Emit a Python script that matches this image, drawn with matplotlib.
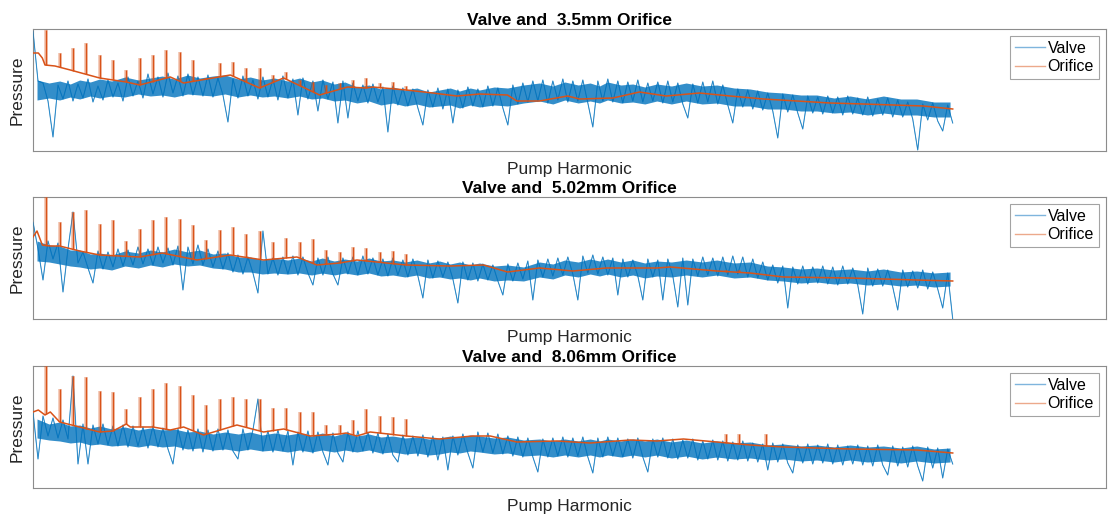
import numpy as np
import matplotlib
matplotlib.use("Agg")
import matplotlib.pyplot as plt

plt.rcParams['font.family'] = ['Liberation Sans', 'DejaVu Sans']

titles = ["Valve and  3.5mm Orifice", "Valve and  5.02mm Orifice", "Valve and  8.06mm Orifice"]
x_label = "Pump Harmonic"
y_label = "Pressure"
legend_labels = ["Valve", "Orifice"]

# Valve pressure sampled on a uniform harmonic grid from 0 to 69 (185 samples)
valve_1 = [120, 70, 68, 50, 14, 66, 52, 70, 50, 67, 53, 72, 49, 65, 51, 71, 54, 68, 50, 74,
           55, 70, 53, 77, 57, 74, 54, 78, 58, 75, 55, 77, 56, 74, 55, 76, 54, 73, 56, 29,
           72, 53, 75, 55, 71, 52, 74, 54, 72, 51, 75, 53, 72, 36, 73, 52, 70, 40, 71, 52,
           69, 28, 70, 33, 68, 50, 66, 48, 67, 49, 64, 19, 65, 46, 63, 45, 62, 43, 26, 61,
           44, 63, 42, 62, 28, 61, 43, 64, 45, 62, 44, 65, 45, 63, 43, 26, 66, 47, 68, 49,
           70, 50, 71, 48, 70, 51, 72, 49, 70, 50, 71, 48, 24, 70, 50, 72, 49, 70, 48, 69,
           50, 71, 49, 68, 50, 69, 48, 70, 49, 68, 47, 33, 67, 48, 69, 49, 70, 47, 66, 46,
           28, 62, 44, 61, 42, 60, 41, 58, 40, 13, 57, 39, 56, 38, 22, 55, 38, 54, 37, 55,
           38, 54, 36, 55, 37, 53, 36, 54, 35, 52, 36, 53, 34, 51, 34, 49, 32, 1, 47, 31,
           48, 30, 20, 46, 28]
valve_2 = [97, 70, 39, 78, 60, 76, 27, 70, 107, 56, 67, 51, 36, 68, 50, 67, 52, 70, 53, 69,
           54, 72, 55, 70, 54, 72, 56, 71, 54, 73, 29, 72, 55, 74, 54, 70, 52, 68, 50, 66,
           47, 64, 45, 62, 46, 26, 88, 45, 61, 44, 62, 45, 63, 44, 62, 46, 34, 61, 44, 62,
           45, 34, 61, 45, 62, 44, 63, 45, 61, 44, 60, 43, 61, 44, 59, 42, 60, 43, 21, 59,
           41, 58, 42, 57, 40, 16, 57, 39, 56, 38, 55, 39, 54, 38, 24, 55, 38, 56, 40, 58,
           19, 59, 42, 60, 43, 61, 44, 62, 45, 19, 63, 46, 64, 45, 62, 44, 61, 24, 60, 42,
           59, 43, 19, 60, 42, 59, 19, 60, 43, 12, 61, 14, 60, 43, 62, 44, 61, 43, 62, 44,
           63, 45, 62, 42, 60, 41, 57, 39, 54, 36, 53, 11, 52, 35, 53, 35, 52, 36, 53, 35,
           52, 34, 53, 35, 51, 34, 5, 51, 33, 50, 33, 49, 32, 9, 49, 32, 48, 31, 49, 30,
           47, 30, 11, 46, 0]
valve_3 = [76, 29, 72, 52, 70, 50, 68, 49, 112, 24, 64, 24, 63, 44, 64, 43, 62, 42, 63, 41,
           62, 42, 61, 40, 62, 41, 60, 39, 24, 59, 38, 58, 37, 59, 36, 58, 37, 59, 38, 58,
           37, 29, 59, 38, 58, 89, 37, 57, 36, 58, 37, 57, 23, 56, 36, 57, 35, 56, 36, 23,
           55, 35, 26, 56, 36, 57, 37, 56, 35, 55, 34, 54, 33, 26, 53, 33, 52, 32, 53, 31,
           52, 28, 51, 18, 52, 33, 54, 35, 20, 56, 36, 55, 35, 54, 34, 52, 32, 51, 31, 50,
           31, 16, 49, 31, 50, 32, 51, 31, 50, 32, 51, 31, 15, 50, 31, 51, 32, 50, 31, 49,
           30, 50, 31, 16, 49, 31, 50, 30, 49, 29, 48, 30, 49, 28, 47, 29, 48, 28, 47, 27,
           46, 28, 47, 27, 45, 26, 44, 18, 45, 26, 44, 25, 15, 43, 25, 44, 24, 43, 25, 44,
           24, 43, 23, 42, 24, 43, 23, 42, 22, 43, 23, 13, 42, 22, 41, 21, 42, 22, 7, 41,
           20, 40, 10, 39, 24]

# Dense core of the valve noise band: (harmonic, upper, lower)
band_h = [0.3, 1.2, 2.0, 2.8, 3.5, 4.3, 5.0, 5.9, 6.9, 7.9, 8.8, 9.7, 10.6, 11.6, 12.5, 13.5,
          14.4, 15.4, 16.3, 17.2, 18.1, 19.1, 20.0, 20.9, 21.7, 22.6, 23.4, 24.3, 25.2, 26.1,
          27.0, 27.9, 28.8, 29.7, 30.5, 31.3, 32.0, 32.8, 33.5, 34.6, 35.6, 36.8, 38.0, 39.0,
          39.9, 40.9, 41.8, 42.5, 43.1, 44.1, 45.0, 45.9, 46.8, 47.9, 49.0, 50.2, 51.3, 52.6,
          53.8, 55.1, 56.3, 57.6, 58.8, 60.1, 61.3, 62.6, 63.8, 65.1, 66.3, 67.6, 68.8]
band_hi_1 = [71, 68, 70, 67, 71, 69, 72, 70, 74, 71, 73, 75, 72, 76, 73, 75, 76, 72, 74, 71,
             73, 70, 73, 69, 71, 67, 69, 64, 66, 62, 64, 61, 63, 59, 61, 63, 60, 63, 61, 64,
             63, 66, 68, 65, 69, 66, 68, 65, 69, 66, 67, 64, 67, 65, 68, 65, 66, 63, 62, 59,
             58, 56, 56, 53, 55, 52, 55, 52, 52, 49, 49]
band_lo_1 = [51, 53, 51, 54, 52, 55, 53, 55, 54, 57, 55, 56, 54, 57, 56, 55, 57, 54, 56, 54,
             55, 53, 55, 52, 53, 50, 51, 48, 50, 46, 48, 45, 47, 44, 45, 46, 43, 46, 44, 46,
             45, 48, 50, 47, 51, 48, 50, 48, 51, 48, 49, 47, 50, 47, 50, 47, 48, 45, 45, 42,
             42, 40, 40, 38, 39, 36, 38, 36, 36, 34, 34]
band_hi_2 = [78, 74, 73, 69, 69, 65, 66, 64, 68, 66, 69, 67, 70, 67, 69, 65, 66, 62, 62, 59,
             61, 59, 61, 58, 61, 58, 60, 58, 61, 58, 59, 57, 59, 56, 58, 55, 57, 54, 56, 53,
             54, 52, 57, 55, 59, 57, 60, 58, 60, 57, 59, 56, 58, 57, 59, 57, 59, 56, 57, 53,
             52, 50, 51, 49, 50, 48, 50, 47, 48, 46, 47]
band_lo_2 = [58, 57, 55, 53, 52, 50, 51, 49, 53, 51, 54, 52, 55, 53, 54, 51, 50, 47, 47, 45,
             46, 45, 46, 44, 46, 44, 46, 44, 46, 43, 44, 42, 44, 41, 42, 40, 41, 39, 41, 38,
             39, 38, 42, 40, 44, 42, 45, 43, 45, 42, 44, 41, 43, 42, 44, 42, 44, 41, 42, 39,
             38, 36, 37, 35, 36, 34, 35, 33, 34, 32, 33]
band_hi_3 = [69, 64, 66, 62, 63, 60, 62, 59, 61, 58, 60, 58, 59, 56, 57, 54, 56, 54, 56, 53,
             55, 53, 55, 52, 55, 52, 55, 52, 54, 51, 52, 50, 51, 49, 50, 52, 51, 53, 52, 50,
             51, 48, 49, 47, 49, 47, 49, 47, 49, 47, 49, 47, 49, 46, 48, 45, 47, 45, 46, 43,
             44, 42, 43, 41, 43, 41, 42, 40, 42, 39, 40]
band_lo_3 = [50, 48, 47, 45, 46, 43, 44, 42, 43, 41, 43, 41, 42, 39, 40, 38, 39, 37, 39, 37,
             38, 36, 38, 36, 38, 36, 38, 36, 38, 35, 36, 34, 35, 33, 34, 36, 35, 37, 36, 34,
             35, 32, 33, 31, 33, 31, 33, 31, 33, 31, 33, 31, 33, 30, 32, 29, 31, 29, 30, 28,
             29, 27, 28, 26, 28, 26, 27, 25, 27, 25, 26]

# Orifice smooth response: (harmonic, pressure) pairs
orifice_h_1 = [0.0, 0.4, 0.7, 0.9, 1.65, 2.8, 5.0, 6.0, 7.0, 8.0, 10.3, 11.3, 14.8, 17.0, 18.8,
               21.5, 23.6, 25.0, 25.5, 28.0, 30.0, 31.8, 33.5, 35.6, 36.3, 38.0, 40.1, 41.0,
               43.5, 45.5, 47.5, 50.0, 52.3, 54.8, 57.3, 59.8, 62.3, 66.8, 69.0]
orifice_v_1 = [98, 98, 93, 86, 85, 81, 73, 71, 69, 66, 74, 68, 76, 63, 73, 56, 64, 63, 64, 61,
               58, 55, 57, 56, 50, 50, 55, 52, 53, 59, 55, 58, 55, 52, 50, 48, 47, 45, 42]
orifice_h_2 = [0.0, 0.3, 0.7, 1.3, 2.0, 3.5, 5.0, 8.0, 9.7, 12.3, 13.8, 14.8, 17.3, 19.8, 21.3,
               23.0, 24.3, 28.0, 31.3, 33.8, 35.6, 38.0, 40.5, 43.0, 46.8, 47.8, 51.3, 53.8,
               56.3, 61.3, 66.3, 69.0]
orifice_v_2 = [82, 88, 74, 73, 73, 68, 64, 62, 66, 59, 62, 64, 59, 62, 54, 56, 59, 54, 53, 54,
               47, 51, 48, 51, 51, 52, 48, 46, 42, 41, 39, 38]
orifice_h_3 = [0.0, 0.4, 0.9, 1.3, 2.0, 3.5, 5.0, 6.0, 7.0, 7.3, 9.0, 10.3, 11.3, 12.8, 15.3,
               17.3, 18.8, 20.8, 23.0, 23.5, 24.3, 25.3, 28.0, 30.5, 33.0, 34.3, 36.3, 39.3,
               41.8, 44.8, 46.8, 48.8, 51.3, 53.8, 56.3, 61.3, 66.3, 69.0]
orifice_v_3 = [76, 78, 73, 76, 66, 61, 56, 57, 64, 61, 61, 58, 61, 53, 63, 56, 59, 52, 54, 55,
               52, 56, 52, 49, 52, 52, 46, 47, 45, 48, 47, 49, 46, 43, 41, 39, 38, 35]

# Orifice harmonic peaks: harmonic number -> peak pressure
spike_h_1 = list(range(1, 29))
spike_v_1 = [121, 98, 103, 108, 96, 91, 81, 93, 96, 101, 99, 91, 73, 88, 89, 83, 83, 76, 79,
             71, 69, 66, 68, 71, 73, 68, 69, 65]
spike_h_2 = list(range(1, 29)) + [52, 53]
spike_v_2 = [122, 97, 107, 109, 95, 99, 78, 90, 99, 102, 100, 94, 79, 89, 92, 85, 88, 77, 81,
             77, 80, 69, 67, 72, 71, 67, 68, 65, 49, 49]
spike_h_3 = list(range(1, 29)) + [52, 53, 55]
spike_v_3 = [122, 99, 112, 111, 97, 96, 79, 91, 99, 105, 102, 93, 83, 89, 91, 89, 89, 80, 80,
             76, 76, 63, 63, 68, 79, 72, 71, 69, 54, 54, 54]

valves = [valve_1, valve_2, valve_3]
bands = [(band_hi_1, band_lo_1), (band_hi_2, band_lo_2), (band_hi_3, band_lo_3)]
orifices = [(orifice_h_1, orifice_v_1), (orifice_h_2, orifice_v_2), (orifice_h_3, orifice_v_3)]
spikes = [(spike_h_1, spike_v_1), (spike_h_2, spike_v_2), (spike_h_3, spike_v_3)]

blue = "#0072BD"
orange = "#D95319"

fig = plt.figure(figsize=(11.08, 5.18), dpi=100)
W, H = 1108, 518
panel_tops = [29, 197, 366]
ax_left, ax_right, ax_h = 33, 1106, 122

for p in range(3):
    top = panel_tops[p]
    ax = fig.add_axes([ax_left / W, 1 - (top + ax_h) / H, (ax_right - ax_left) / W, ax_h / H])
    v = valves[p]
    harm = np.linspace(0, 69, len(v))
    bh, bl = bands[p]
    oh, ov = orifices[p]
    sh, sv = spikes[p]
    base = np.interp(sh, oh, ov)

    ax.plot(harm, v, color=blue, lw=0.8, alpha=0.55, zorder=2)
    ax.fill_between(band_h, bl, bh, color=blue, alpha=0.8, lw=0, zorder=2.5)
    ax.plot(harm, v, color=blue, lw=0.5, alpha=0.8, zorder=3)
    ax.vlines(sh, base, sv, color=orange, lw=2.6, alpha=0.35, zorder=3.5)
    ax.vlines(sh, base, sv, color=orange, lw=1.0, zorder=4)
    ax.plot(oh, ov, color=orange, lw=1.1, zorder=4)

    ax.set_xlim(0, 80.5)
    ax.set_ylim(0, 122)
    ax.set_xticks([])
    ax.set_yticks([])
    for s in ax.spines.values():
        s.set_color("#8c8c8c")
        s.set_linewidth(0.8)
    ax.set_title(titles[p], fontsize=12.5, fontweight="bold", pad=3)
    ax.set_xlabel(x_label, fontsize=12.5, labelpad=8, color="#262626")
    ax.set_ylabel(y_label, fontsize=12.5, labelpad=6, color="#262626")

    h1 = plt.Line2D([], [], color="#7fb5dd", lw=1.0)
    h2 = plt.Line2D([], [], color="#eca98b", lw=1.0)
    leg = ax.legend([h1, h2], legend_labels, loc="upper right", fontsize=11.5,
                    frameon=True, fancybox=False, edgecolor="#8c8c8c",
                    handlelength=1.9, handletextpad=0.15, borderpad=0.3,
                    labelspacing=0.2, borderaxespad=0.45)
    leg.get_frame().set_linewidth(0.8)

fig.savefig("out.png", dpi=100)
